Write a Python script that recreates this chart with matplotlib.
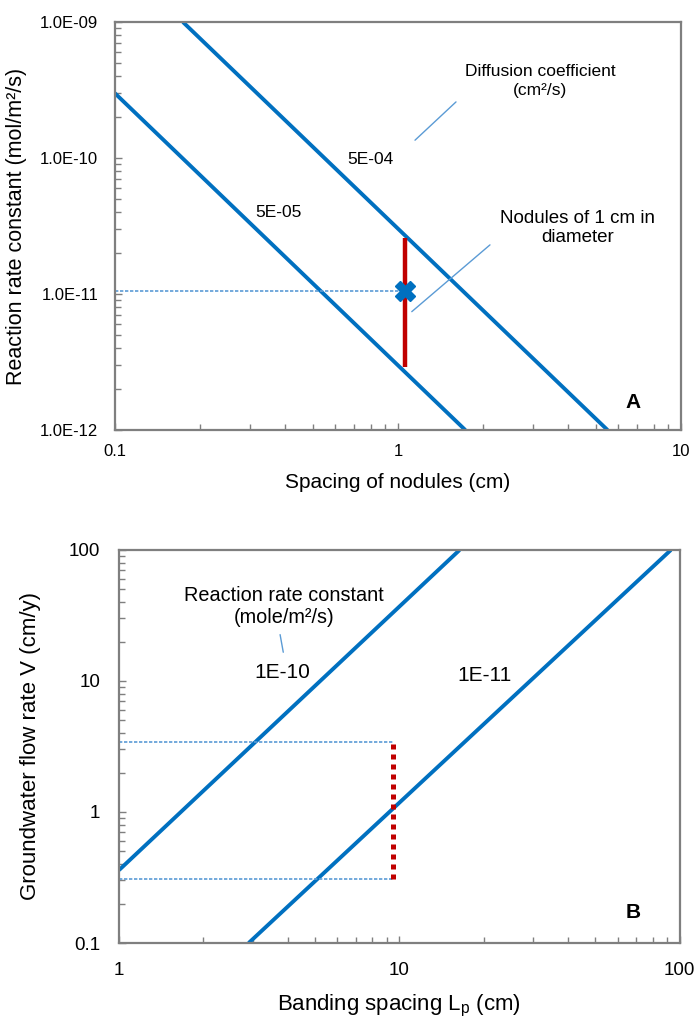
import numpy as np
import matplotlib
matplotlib.use("Agg")
import matplotlib.pyplot as plt
from matplotlib.ticker import FixedLocator, FixedFormatter, LogLocator, NullFormatter

plt.rcParams["font.family"] = ["Liberation Sans", "DejaVu Sans"]

BLUE = "#0070C0"
LIGHT = "#5B9BD5"
RED = "#C00000"
SPINE = "#7F7F7F"

# ── Panel A data: reaction rate constant vs nodule spacing ───────────────────
a_line_hi_x = [0.174, 5.5]          # D = 5E-04 cm2/s
a_line_hi_y = [1e-9, 1e-12]
a_line_lo_x = [0.1, 1.73]           # D = 5E-05 cm2/s
a_line_lo_y = [3.0e-10, 1e-12]
a_red_x = [1.06, 1.06]              # nodules of 1 cm
a_red_y = [2.6e-11, 2.9e-12]
a_point_x = [1.06]
a_point_y = [1.05e-11]
a_guide_x = [0.1, 1.02]
a_guide_y = [1.05e-11, 1.05e-11]
a_yticks = [1e-12, 1e-11, 1e-10, 1e-9]
a_yticklabels = ["1.0E-12", "1.0E-11", "1.0E-10", "1.0E-09"]
a_xticks = [0.1, 1, 10]
a_xticklabels = ["0.1", "1", "10"]

# ── Panel B data: groundwater flow rate vs banding spacing ───────────────────
b_line_hi_x = [1, 16.4]             # k = 1E-10
b_line_hi_y = [0.36, 100]
b_line_lo_x = [2.9, 93]             # k = 1E-11
b_line_lo_y = [0.1, 100]
b_red_x = [9.5, 9.5]
b_red_y = [0.31, 3.4]
b_guide_top_x = [1, 9.5]
b_guide_top_y = [3.45, 3.45]
b_guide_bot_x = [1, 9.5]
b_guide_bot_y = [0.31, 0.31]
b_yticks = [0.1, 1, 10, 100]
b_yticklabels = ["0.1", "1", "10", "100"]
b_xticks = [1, 10, 100]
b_xticklabels = ["1", "10", "100"]


def style_axes(ax, xticks, xlabels, yticks, ylabels, fs, xpad, ypad):
    ax.set_xscale("log")
    ax.set_yscale("log")
    for s in ax.spines.values():
        s.set_color(SPINE)
        s.set_linewidth(1.6)
    ax.xaxis.set_major_locator(FixedLocator(xticks))
    ax.xaxis.set_major_formatter(FixedFormatter(xlabels))
    ax.yaxis.set_major_locator(FixedLocator(yticks))
    ax.yaxis.set_major_formatter(FixedFormatter(ylabels))
    ax.xaxis.set_minor_locator(LogLocator(base=10, subs=np.arange(2, 10)))
    ax.yaxis.set_minor_locator(LogLocator(base=10, subs=np.arange(2, 10)))
    ax.xaxis.set_minor_formatter(NullFormatter())
    ax.yaxis.set_minor_formatter(NullFormatter())
    ax.tick_params(which="both", direction="in", color=SPINE, width=1.0,
                   top=False, right=False, labelsize=fs)
    ax.tick_params(axis="x", which="major", pad=xpad)
    ax.tick_params(axis="y", which="major", pad=ypad)
    ax.tick_params(which="major", length=5)
    ax.tick_params(which="minor", length=4)


fig = plt.figure(figsize=(7, 10.24), dpi=100)

# ── Panel A ──────────────────────────────────────────────────────────────────
ax = fig.add_axes([0.164, 0.580, 0.809, 0.3985])
style_axes(ax, a_xticks, a_xticklabels, a_yticks, a_yticklabels, 12, 10, 12)
ax.set_xlim(0.1, 10)
ax.set_ylim(1e-12, 1e-9)

ax.plot(a_line_hi_x, a_line_hi_y, color=BLUE, lw=2.8, solid_capstyle="butt")
ax.plot(a_line_lo_x, a_line_lo_y, color=BLUE, lw=2.8, solid_capstyle="butt")
ax.plot(a_guide_x, a_guide_y, color=LIGHT, lw=1.2, linestyle=(0, (2, 1)))
ax.plot(a_red_x, a_red_y, color=RED, lw=3.2, solid_capstyle="butt")
ax.plot(a_point_x, a_point_y, marker="X", color=BLUE, markersize=15,
        linestyle="none", zorder=5)

ax.text(3.18, 3.7e-10, "Diffusion coefficient\n(cm²/s)", ha="center",
        va="center", fontsize=12.5, linespacing=1.3)
ax.annotate("", xy=(1.13, 1.31e-10), xytext=(1.63, 2.67e-10),
            arrowprops=dict(arrowstyle="-", color=LIGHT, lw=1.0))
ax.text(0.80, 9.7e-11, "5E-04", ha="center", va="center", fontsize=12.5)
ax.text(0.38, 3.95e-11, "5E-05", ha="center", va="center", fontsize=12.5)
ax.text(4.3, 3.05e-11, "Nodules of 1 cm in\ndiameter", ha="center",
        va="center", fontsize=13.5, linespacing=1.15)
ax.annotate("", xy=(1.10, 7.2e-12), xytext=(2.15, 2.37e-11),
            arrowprops=dict(arrowstyle="-", color=LIGHT, lw=1.0))
ax.text(6.77, 1.6e-12, "A", ha="center", va="center", fontsize=15,
        fontweight="bold")

ax.set_xlabel("Spacing of nodules (cm)", fontsize=15, labelpad=10)
ax.set_ylabel("Reaction rate constant (mol/m²/s)", fontsize=15.5, labelpad=9)

# ── Panel B ──────────────────────────────────────────────────────────────────
bx = fig.add_axes([0.170, 0.0791, 0.801, 0.3838])
style_axes(bx, b_xticks, b_xticklabels, b_yticks, b_yticklabels, 13.5, 14, 13.5)
bx.set_xlim(1, 100)
bx.set_ylim(0.1, 100)

bx.plot(b_line_hi_x, b_line_hi_y, color=BLUE, lw=2.8, solid_capstyle="butt")
bx.plot(b_line_lo_x, b_line_lo_y, color=BLUE, lw=2.8, solid_capstyle="butt")
bx.plot(b_guide_top_x, b_guide_top_y, color=LIGHT, lw=1.2,
        linestyle=(0, (2, 1)))
bx.plot(b_guide_bot_x, b_guide_bot_y, color=LIGHT, lw=1.2,
        linestyle=(0, (2, 1)))
bx.plot(b_red_x, b_red_y, color=RED, lw=3.6, linestyle=(0, (1, 1)))

bx.text(3.87, 37, "Reaction rate constant\n(mole/m²/s)", ha="center",
        va="center", fontsize=14.3, linespacing=1.15)
bx.annotate("", xy=(3.87, 15.8), xytext=(3.74, 23.7),
            arrowprops=dict(arrowstyle="-", color=LIGHT, lw=1.0))
bx.text(3.83, 11.7, "1E-10", ha="center", va="center", fontsize=15)
bx.text(20.2, 11.1, "1E-11", ha="center", va="center", fontsize=15)
bx.text(68, 0.17, "B", ha="center", va="center", fontsize=15,
        fontweight="bold")

bx.set_xlabel(r"Banding spacing L$_\mathregular{p}$ (cm)", fontsize=16,
              labelpad=10)
bx.set_ylabel("Groundwater flow rate V (cm/y)", fontsize=16, labelpad=20)

fig.savefig("out.png", dpi=100)
